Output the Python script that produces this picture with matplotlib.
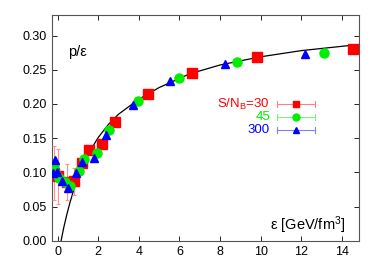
import matplotlib
matplotlib.use("Agg")
import matplotlib.pyplot as plt

# S/N_B = 30
eps_30 = [-0.2, 0.0, 0.45, 0.8, 1.2, 1.55, 2.2, 2.85, 4.45, 6.6, 9.8, 14.55]
pe_30 = [0.099, 0.094, 0.086, 0.087, 0.114, 0.132, 0.141, 0.174, 0.214, 0.246, 0.268, 0.280]
err_30 = [0.040, 0.040, 0.026, 0.020, 0.008, 0.007, 0.005, 0.003, 0.002, 0.002, 0.002, 0.002]

# S/N_B = 45
eps_45 = [-0.2, -0.15, 0.08, 0.34, 0.62, 1.03, 1.31, 1.96, 2.55, 3.97, 5.97, 8.84, 13.1]
pe_45 = [0.109, 0.0995, 0.092, 0.086, 0.080, 0.102, 0.120, 0.129, 0.162, 0.205, 0.238, 0.262, 0.275]

# S/N_B = 300
eps_300 = [-0.25, -0.15, -0.03, 0.21, 0.51, 0.9, 1.2, 1.81, 2.37, 3.73, 5.56, 8.25, 12.2]
pe_300 = [0.0995, 0.118, 0.101, 0.088, 0.0775, 0.0995, 0.1155, 0.121, 0.1545, 0.198, 0.233, 0.259, 0.273]

# fit curve
fit_eps = [0.17, 0.3, 0.45, 0.6, 0.8, 1.0, 1.3, 1.6, 2.0, 2.5, 3.0, 4.0, 5.0, 6.5, 8.0, 10.0, 12.0, 14.85]
fit_pe = [0.0, 0.019, 0.038, 0.055, 0.075, 0.092, 0.114, 0.1315, 0.151, 0.170, 0.185, 0.207, 0.224, 0.244, 0.257, 0.269, 0.278, 0.287]

xticks = [0, 2, 4, 6, 8, 10, 12, 14]
yticks = [0.00, 0.05, 0.10, 0.15, 0.20, 0.25, 0.30]

plt.rcParams['font.family'] = ['Liberation Sans', 'DejaVu Sans']
plt.rcParams['mathtext.default'] = 'regular'
fig = plt.figure(figsize=(3.82, 2.67), dpi=100)
ax = fig.add_axes([0.136, 0.0985, 0.804, 0.845])

ax.plot(fit_eps, fit_pe, color='black', lw=0.9, zorder=2)

ax.errorbar(eps_30, pe_30, yerr=err_30, fmt='none', ecolor='#ff9090', elinewidth=0.8,
            capsize=1.5, capthick=0.8, zorder=3)
ax.plot(eps_30, pe_30, 's', color='#ff0000', ms=6.5, mec='#ff0000', zorder=4)
ax.plot(eps_45, pe_45, 'o', color='#00ee00', ms=6.5, mec='#00ee00', zorder=5)
ax.plot(eps_300, pe_300, '^', color='#0000ff', ms=6.2, mec='#0000ff', zorder=6)

ax.set_xlim(-0.28, 14.85)
ax.set_ylim(0.0, 0.33)
ax.set_xticks(xticks)
ax.set_yticks(yticks)
ax.set_yticklabels([f"{v:.2f}" for v in yticks])
ax.tick_params(direction='in', top=True, right=True, length=3.5, width=0.6,
               labelsize=9, colors='black')
for s in ax.spines.values():
    s.set_color('#555555')
    s.set_linewidth(0.8)

ax.text(0.5, 0.276, 'p/ε', fontsize=10.5, va='center', ha='left')
ax.text(0.955, 0.068, 'ε [GeV/fm$^3$]', transform=ax.transAxes,
        fontsize=10.5, ha='right', va='center')

# legend drawn by hand, right-aligned labels
legend_rows = [('S/N$_B$=30', '#ff0000', '#ff8080', 's', 0.606),
               ('45', '#00ee00', '#80f080', 'o', 0.548),
               ('300', '#0000ff', '#8080ff', '^', 0.490)]
for label, col, lcol, mk, yy in legend_rows:
    ax.text(0.71, yy, label, color=col, fontsize=9.5, ha='right', va='center',
            transform=ax.transAxes)
    ax.plot([0.733, 0.857], [yy, yy], color=lcol, lw=0.8, transform=ax.transAxes)
    ax.plot([0.733, 0.733], [yy - 0.012, yy + 0.012], color=lcol, lw=0.8, transform=ax.transAxes)
    ax.plot([0.857, 0.857], [yy - 0.012, yy + 0.012], color=lcol, lw=0.8, transform=ax.transAxes)
    ax.plot([0.795], [yy], mk, color=col, ms=5, transform=ax.transAxes)

fig.savefig('out.png', dpi=100)
